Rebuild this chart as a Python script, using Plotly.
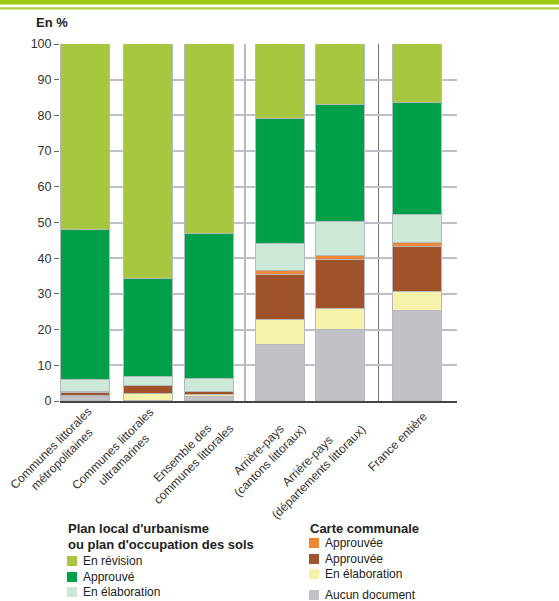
import plotly.graph_objects as go

# ---- data ----
categories = [
    "Communes littorales<br>métropolitaines",
    "Communes littorales<br>ultramarines",
    "Ensemble des<br>communes littorales",
    "Arrière-pays<br>(cantons littoraux)",
    "Arrière-pays<br>(départements littoraux)",
    "France entière",
]
aucun_document = [1.2, 0.0, 1.1, 15.7, 19.8, 25.2]
cc_en_elaboration = [0.2, 2.1, 0.6, 7.1, 5.9, 5.2]
cc_approuvee_brun = [0.9, 2.2, 0.8, 12.6, 13.8, 12.7]
cc_approuvee_orange = [0.1, 0.0, 0.1, 1.0, 1.1, 1.2]
plu_en_elaboration = [3.5, 2.3, 3.5, 7.7, 9.5, 7.7]
plu_approuve = [41.9, 27.7, 40.6, 34.8, 32.7, 31.6]
plu_en_revision = [52.2, 65.7, 53.3, 21.1, 17.2, 16.4]
y_ticks = [0, 10, 20, 30, 40, 50, 60, 70, 80, 90, 100]

# ---- layout helpers (pixel geometry) ----
W, H = 559, 601
L, R, T, B = 60, 457, 44, 401
bar_pos = [85.5, 148.5, 209.7, 280, 340, 417.8]
bar_w = 49
label_centers = [(56.5, 454), (118, 455), (188, 459), (264, 456), (313, 467), (397.5, 442)]

def px(x):
    return (x - L) / (R - L)

def py(y):
    return (B - y) / (B - T)

COL = {
    "rev": "#a6c73f",
    "appr": "#00a04b",
    "elab": "#cce8d6",
    "orange": "#ef8632",
    "brun": "#a0532a",
    "jaune": "#f6f1ab",
    "gris": "#c0c2c8",
}

series = [
    ("Aucun document", aucun_document, COL["gris"]),
    ("CC En élaboration", cc_en_elaboration, COL["jaune"]),
    ("CC Approuvée", cc_approuvee_brun, COL["brun"]),
    ("CC Approuvée (2)", cc_approuvee_orange, COL["orange"]),
    ("PLU En élaboration", plu_en_elaboration, COL["elab"]),
    ("PLU Approuvé", plu_approuve, COL["appr"]),
    ("PLU En révision", plu_en_revision, COL["rev"]),
]

fig = go.Figure()
for name, vals, c in series:
    fig.add_trace(go.Bar(
        x=bar_pos, y=vals, name=name, width=bar_w,
        marker=dict(color=c, line=dict(color="#b5b8bd", width=1)),
        showlegend=False, hovertext=[cat.replace("<br>", " ") for cat in categories],
    ))

shapes = []
# separators
for sx in (245, 378.5):
    shapes.append(dict(type="line", xref="x", yref="y", x0=sx, x1=sx, y0=0, y1=100,
                       line=dict(color="#707377", width=1), layer="below"))
# top green bands
shapes.append(dict(type="rect", xref="paper", yref="paper", x0=px(0), x1=px(W),
                   y0=py(4.5), y1=py(-1), fillcolor="#9dc80f", line=dict(width=0)))
shapes.append(dict(type="rect", xref="paper", yref="paper", x0=px(0), x1=px(W),
                   y0=py(9.5), y1=py(7.3), fillcolor="#aed23a", line=dict(width=0)))

annotations = []
annotations.append(dict(text="<b>En %</b>", xref="paper", yref="paper", x=px(34), y=py(22),
                        xanchor="left", yanchor="middle", showarrow=False,
                        font=dict(size=13, color="#222")))
for cat, (cx, cy) in zip(categories, label_centers):
    annotations.append(dict(text=cat, xref="paper", yref="paper", x=px(cx), y=py(cy),
                            xanchor="center", yanchor="middle", textangle=-45, align="center",
                            showarrow=False, font=dict(size=12, color="#333")))

# legend (manual)
def legend_item(x, y, color, text):
    shapes.append(dict(type="rect", xref="paper", yref="paper", x0=px(x), x1=px(x + 10),
                       y0=py(y + 5), y1=py(y - 5), fillcolor=color, line=dict(width=0)))
    annotations.append(dict(text=text, xref="paper", yref="paper", x=px(x + 14), y=py(y),
                            xanchor="left", yanchor="middle", showarrow=False,
                            font=dict(size=12, color="#222")))

annotations.append(dict(text="<b>Plan local d'urbanisme</b>", xref="paper", yref="paper",
                        x=px(66), y=py(528), xanchor="left", yanchor="middle", showarrow=False,
                        font=dict(size=13, color="#222")))
annotations.append(dict(text="<b>ou plan d'occupation des sols</b>", xref="paper", yref="paper",
                        x=px(66), y=py(544), xanchor="left", yanchor="middle", showarrow=False,
                        font=dict(size=13, color="#222")))
legend_item(67, 561, COL["rev"], "En révision")
legend_item(67, 577, COL["appr"], "Approuvé")
legend_item(67, 592, COL["elab"], "En élaboration")

annotations.append(dict(text="<b>Carte communale</b>", xref="paper", yref="paper",
                        x=px(308), y=py(528), xanchor="left", yanchor="middle", showarrow=False,
                        font=dict(size=13, color="#222")))
legend_item(309, 543, COL["orange"], "Approuvée")
legend_item(309, 559, COL["brun"], "Approuvée")
legend_item(309, 574, COL["jaune"], "En élaboration")
legend_item(309, 595, COL["gris"], "Aucun document")

fig.update_layout(
    width=W, height=H,
    margin=dict(l=L, r=W - R, t=T, b=H - B, pad=0),
    paper_bgcolor="white", plot_bgcolor="white",
    barmode="stack", bargap=0,
    font=dict(family="Liberation Sans, Arial, sans-serif", size=12, color="#333"),
    xaxis=dict(range=[L, R], showticklabels=False, showgrid=False, zeroline=False,
               showline=True, linecolor="#444", linewidth=1.5, ticks="", fixedrange=True),
    yaxis=dict(range=[0, 100], tickvals=y_ticks, ticks="outside", ticklen=5, tickcolor="#666",
               tickwidth=1, showgrid=True, gridcolor="#bcc0c6", gridwidth=1.5,
               zeroline=False, showline=False, tickfont=dict(size=12.5, color="#333"),
               fixedrange=True),
    shapes=shapes,
    annotations=annotations,
)

fig.write_html(
    "out.html",
    config={"displayModeBar": False},
    post_script="document.body.style.margin='0';document.body.style.overflow='hidden';",
)
